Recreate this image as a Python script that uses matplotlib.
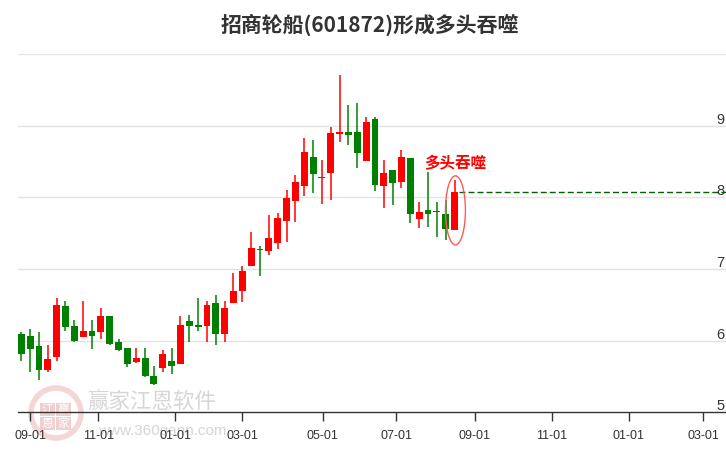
"""招商轮船(601872) weekly candles with the bullish-engulfing marker."""

from datetime import date, timedelta

import matplotlib.pyplot as plt
import numpy as np
from matplotlib.patches import Ellipse, Rectangle

plt.rcParams["font.family"] = ["Noto Sans CJK SC", "DejaVu Sans"]

TITLE = "招商轮船(601872)形成多头吞噬"
SIGNAL_TEXT = "多头吞噬"

# week-ending trading days (holiday weeks are missing)
WEEKS = [
    "2023-08-25", "2023-09-01", "2023-09-08", "2023-09-15", "2023-09-22",
    "2023-09-28", "2023-10-13", "2023-10-20", "2023-10-27", "2023-11-03",
    "2023-11-10", "2023-11-17", "2023-11-24", "2023-12-01", "2023-12-08",
    "2023-12-15", "2023-12-22", "2023-12-29", "2024-01-05", "2024-01-12",
    "2024-01-19", "2024-01-26", "2024-02-02", "2024-02-08", "2024-02-23",
    "2024-03-01", "2024-03-08", "2024-03-15", "2024-03-22", "2024-03-29",
    "2024-04-03", "2024-04-12", "2024-04-19", "2024-04-26", "2024-04-30",
    "2024-05-10", "2024-05-17", "2024-05-24", "2024-05-31", "2024-06-07",
    "2024-06-14", "2024-06-21", "2024-06-28", "2024-07-05", "2024-07-12",
    "2024-07-19", "2024-07-26", "2024-08-02", "2024-08-09", "2024-08-16",
]
OPEN = [
    6.10, 6.06, 5.92, 5.59, 5.77, 6.49, 6.21, 6.05, 6.13, 6.12,
    6.35, 5.98, 5.90, 5.70, 5.76, 5.50, 5.62, 5.72, 5.68, 6.28,
    6.22, 6.21, 6.52, 6.10, 6.52, 6.69, 7.04, 7.27, 7.25, 7.36,
    7.67, 7.95, 8.16, 8.57, 8.27, 8.34, 8.89, 8.92, 8.91, 8.51,
    9.10, 8.16, 8.38, 8.21, 8.55, 7.70, 7.82, 7.81, 7.77, 7.54,
]
HIGH = [
    6.12, 6.17, 6.12, 5.94, 6.60, 6.56, 6.29, 6.56, 6.29, 6.46,
    6.35, 6.03, 5.90, 5.90, 5.90, 5.64, 5.87, 5.90, 6.35, 6.36,
    6.59, 6.56, 6.64, 6.55, 6.95, 7.04, 7.52, 7.32, 7.75, 7.79,
    8.10, 8.31, 8.83, 8.80, 8.52, 8.98, 9.71, 9.29, 9.32, 9.12,
    9.12, 8.52, 8.39, 8.66, 8.55, 7.94, 8.35, 7.94, 7.97, 8.24,
]
LOW = [
    5.71, 5.56, 5.45, 5.56, 5.71, 6.14, 5.98, 6.05, 5.88, 6.03,
    5.94, 5.86, 5.63, 5.69, 5.49, 5.38, 5.56, 5.54, 5.68, 5.98,
    6.14, 5.98, 5.94, 5.98, 6.52, 6.54, 7.04, 6.90, 7.19, 7.28,
    7.38, 7.66, 8.02, 8.06, 7.91, 7.96, 8.77, 8.73, 8.41, 8.51,
    8.09, 7.85, 7.89, 8.13, 7.64, 7.57, 7.59, 7.45, 7.40, 7.54,
]
CLOSE = [
    5.82, 5.88, 5.59, 5.75, 6.50, 6.19, 5.99, 6.14, 6.06, 6.35,
    5.96, 5.87, 5.68, 5.76, 5.50, 5.39, 5.82, 5.64, 6.22, 6.20,
    6.19, 6.50, 6.09, 6.46, 6.70, 6.98, 7.30, 7.26, 7.44, 7.72,
    7.99, 8.21, 8.63, 8.33, 8.29, 8.90, 8.91, 8.87, 8.62, 9.06,
    8.17, 8.34, 8.20, 8.56, 7.77, 7.80, 7.77, 7.80, 7.56, 8.07,
]

TICK_DATES = [
    "2023-09-01", "2023-11-01", "2024-01-01", "2024-03-01", "2024-05-01",
    "2024-07-01", "2024-09-01", "2024-11-01", "2025-01-01", "2025-03-01",
]
TICK_LABELS = ["09-01", "11-01", "01-01", "03-01", "05-01",
               "07-01", "09-01", "11-01", "01-01", "03-01"]
Y_LABELS = [5, 6, 7, 8, 9]

UP = "#ff0000"
DOWN = "#008000"
W, H = 726, 450


def px(x, y):
    """figure-pixel (from top-left) -> figure fraction"""
    return x / W, 1 - y / H


def watermark(ax, fig):
    tf = fig.transFigure
    cx, cy = px(56, 413)
    ax.add_patch(Ellipse((cx, cy), 50 / W, 50 / H, transform=tf, fill=False,
                         edgecolor="#f4d6d6", lw=4, zorder=0.2, clip_on=False))
    # 2x2 stamp
    for ch, (xx, yy) in zip("江赢恩家", [(40, 403), (56, 403), (40, 417), (56, 417)]):
        x0, y1 = px(xx, yy + 13)
        ax.add_patch(Rectangle((x0, y1), 15 / W, 13 / H, transform=tf,
                               facecolor="#f1cfcf", edgecolor="none",
                               zorder=0.25, clip_on=False))
        ax.text(*px(xx + 7.5, yy + 6.5), ch, transform=tf, ha="center",
                va="center", fontsize=8.5, color="white", zorder=0.3,
                clip_on=False)
    ax.text(*px(152, 402), "赢家江恩软件", transform=tf,
            ha="center", va="center", fontsize=15.5, color="#d6d6d6",
            zorder=0.3, clip_on=False)
    ax.text(*px(162, 431), "www.360gann.com", transform=tf,
            ha="center", va="center", fontsize=11, color="#d6d6d6",
            family=["Liberation Sans"], zorder=0.3, clip_on=False)


def main():
    fig = plt.figure(figsize=(W / 100, H / 100), dpi=100)
    ax = fig.add_axes([18 / W, 1 - 412.3 / H, (W - 18) / W, (412.3 - 54.3) / H])

    o, h, l, c = map(np.asarray, (OPEN, HIGH, LOW, CLOSE))
    x = np.arange(len(o))
    colors = np.where(c >= o, UP, DOWN)

    ax.vlines(x, l, h, colors=colors, lw=1.1, zorder=3)
    body = np.maximum(np.abs(c - o), 0.018)
    ax.bar(x, body, bottom=np.minimum(o, c), width=0.78, color=colors,
           linewidth=0, zorder=4)

    # x positions of the month ticks: interpolate dates over candle index,
    # extending weekly past the last candle
    days = [date.fromisoformat(d).toordinal() for d in WEEKS]
    last = date.fromisoformat(WEEKS[-1])
    ext = [(last + timedelta(weeks=k)).toordinal() for k in range(1, 40)]
    all_days = np.array(days + ext)
    all_idx = np.arange(len(all_days))
    ticks = np.interp([date.fromisoformat(d).toordinal() for d in TICK_DATES],
                      all_days, all_idx)
    ax.set_xticks(ticks)
    ax.set_xticklabels(TICK_LABELS, family=["Liberation Sans"], fontsize=9,
                       color="#333333")
    ax.tick_params(axis="x", direction="out", length=6.5, width=1,
                   color="#333333", pad=6)
    ax.set_yticks([])

    ax.set_xlim(-0.37, 79.7)
    ax.set_ylim(5, 10)
    for s in ("top", "left", "right"):
        ax.spines[s].set_visible(False)
    ax.spines["bottom"].set_color("#333333")
    ax.spines["bottom"].set_linewidth(1)

    for v in Y_LABELS[1:] + [10]:
        ax.axhline(v, color="#e3e3e3", lw=1, zorder=1)
    for v in Y_LABELS:
        ax.annotate(str(v), (0.9975, v), xycoords=("axes fraction", "data"),
                    xytext=(0, 1.5), textcoords="offset points",
                    ha="right", va="baseline", fontsize=10.5, color="#333333",
                    family=["Liberation Sans"], zorder=5)

    # engulfing marker
    n = len(c) - 1
    ax.add_patch(Ellipse((n + 0.1, 7.82), 2.26, 0.965, fill=False,
                         edgecolor="#ff5a5a", lw=1, zorder=5))
    ax.plot([n + 0.45, 79.7], [c[-1], c[-1]], color="#006400", lw=1,
            ls=(0, (4.3, 2.2)), zorder=3)
    ax.text(n + 0.1, 8.476, SIGNAL_TEXT, color=UP, fontsize=11.2,
            fontweight="bold", ha="center", va="center", zorder=6)

    fig.text(*px(370, 25), TITLE, ha="center", va="center", fontsize=15,
             fontweight="bold", color="#333333")

    watermark(ax, fig)

    fig.savefig("out.png", dpi=100)
    plt.close(fig)


if __name__ == "__main__":
    main()
